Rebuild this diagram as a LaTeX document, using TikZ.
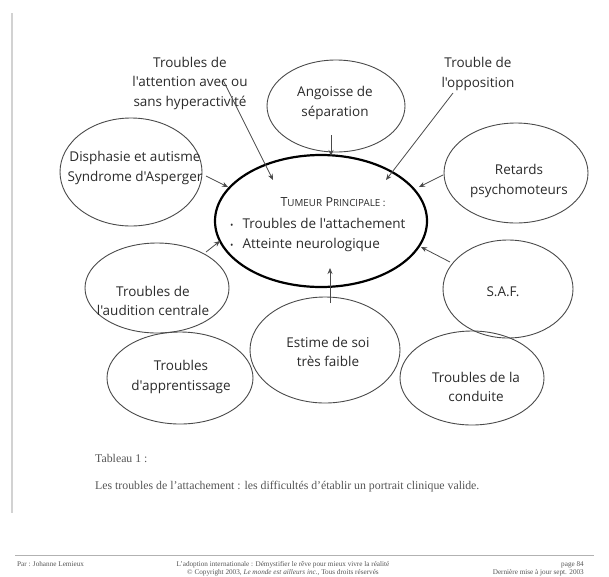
\documentclass[tikz,border=0pt]{standalone}
\usepackage{fontspec}
\setmainfont{Liberation Serif}
\newfontfamily\comic{Open Sans}
\usetikzlibrary{shapes.geometric,arrows.meta,calc}
\definecolor{ink}{HTML}{2B2B2B}
\definecolor{linec}{HTML}{4A4A4A}
\definecolor{capc}{HTML}{555555}
\begin{document}
\begin{tikzpicture}[x=1pt,y=-1pt,
 ell/.style={ellipse, draw=linec, line width=0.9pt, inner sep=0pt},
 lbl/.style={font=\comic\fontsize{13.5}{19.5}\selectfont, text=ink, align=center, inner sep=0pt},
 arr/.style={draw=linec, line width=0.8pt, -{Stealth[length=6pt,width=5pt]}},
 captxt/.style={font=\fontsize{11.8}{14}\selectfont, text=capc, anchor=base west, inner sep=0pt},
 foot/.style={font=\fontsize{7.2}{8}\selectfont, text=capc, inner sep=0pt},
]
\useasboundingbox (0,0) rectangle (609,576);
\fill[white] (0,0) rectangle (609,576);
% page edge
\draw[gray!35, line width=2pt] (12,13) -- (12,513);

% central ellipse
\node[ellipse, draw=black, line width=2.2pt, inner sep=0pt, minimum width=212, minimum height=132] (cen) at (321,221) {};
\node[lbl] (title) at (333,202) {{\fontsize{12.5}{13}\selectfont T}{\fontsize{9.8}{13}\selectfont UMEUR} {\fontsize{12.5}{13}\selectfont P}{\fontsize{9.8}{13}\selectfont RINCIPALE :}};
\node[lbl, anchor=west, align=left] (bul) at (230,235) {{\small\textbullet}\hspace{9pt}Troubles de l'attachement\\{\small\textbullet}\hspace{9pt}Atteinte neurologique};

% surrounding ellipses
\node[ell, minimum width=138, minimum height=92] (ang) at (336,106) {};
\node[lbl] (angT) at (335,103) {Angoisse de\\séparation};

\node[ell, minimum width=142, minimum height=108] (dis) at (131,172) {};
\node[lbl] (disT) at (135,168) {Disphasie et autisme\\Syndrome d'Asperger};

\node[ell, minimum width=144, minimum height=100] (ret) at (516,173) {};
\node[lbl] (retT) at (519,181) {Retards\\psychomoteurs};

\node[ell, minimum width=144, minimum height=90] (aud) at (157,288) {};
\node[lbl] (audT) at (153,301) {Troubles de\\l'audition centrale};

\node[ell, minimum width=146, minimum height=92] (app) at (180,378) {};
\node[lbl] (appT) at (181,377) {Troubles\\d'apprentissage};

\node[ell, minimum width=150, minimum height=106] (est) at (325,350) {};
\node[lbl] (estT) at (328,352) {Estime de soi\\très faible};

\node[ell, minimum width=130, minimum height=98] (saf) at (508,289) {};
\node[lbl] (safT) at (503,292) {S.A.F.};

\node[ell, minimum width=144, minimum height=94] (con) at (472,378) {};
\node[lbl] (conT) at (476,387) {Troubles de la\\conduite};

% free labels
\node[lbl] (attn) at (190,83) {Troubles de\\l'attention avec ou\\sans hyperactivité};
\node[lbl] (opp) at (478,74) {Trouble de\\l'opposition};

% connectors
\draw[arr] ($(attn.center)+(33,-3)$) -- ($(cen.center)+(-48,-41)$);
\draw[arr] ($(ang.center)+(-5,29)$) -- ($(cen.center)+(10,-65)$);
\draw[arr] ($(opp.center)+(-25,19)$) -- ($(cen.center)+(65,-41)$);
\draw[arr] ($(dis.center)+(75,4)$) -- ($(cen.center)+(-93,-34)$);
\draw[arr] ($(ret.center)+(-73,2)$) -- ($(cen.center)+(98,-34)$);
\draw[arr] ($(aud.center)+(49,-36)$) -- ($(cen.center)+(-101,20)$);
\draw[arr] ($(saf.center)+(-58,-27)$) -- ($(cen.center)+(100,26)$);
\draw[arr] ($(est.center)+(5,-47)$) -- ($(cen.center)+(9,47)$);

% caption
\node[captxt] (tab) at (95,462) {Tableau 1 :};
\node[captxt] (capt) at (95,489) {Les troubles de l'attachement : les difficultés d'établir un portrait clinique valide.};

% footer
\draw[gray!60, line width=1pt] (15,555) -- (594,555);
\node[foot, anchor=base west] (fl) at (17,566) {Par : Johanne Lemieux};
\node[foot, anchor=base] (fc1) at (283,566) {L'adoption internationale : Démystifier le rêve pour mieux vivre la réalité};
\node[foot, anchor=base] (fc2) at (283,574) {© Copyright 2003, \textit{Le monde est ailleurs inc.}, Tous droits réservés};
\node[foot, anchor=base east] (fr1) at (584,566) {page 84};
\node[foot, anchor=base east] (fr2) at (584,574) {Dernière mise à jour sept. 2003};
\end{tikzpicture}
\end{document}
